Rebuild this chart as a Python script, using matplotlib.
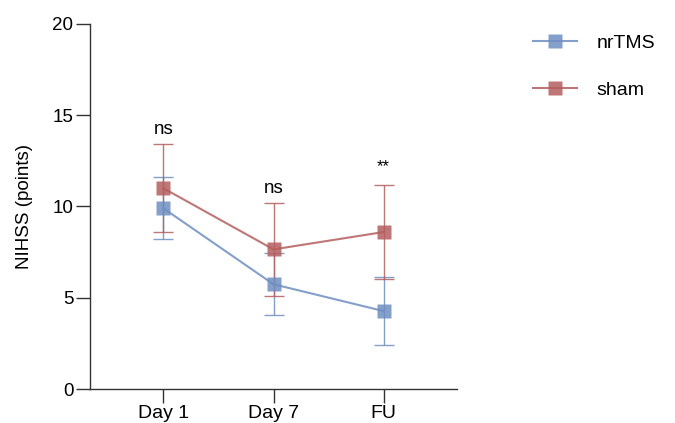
import matplotlib
matplotlib.use("Agg")
import matplotlib.pyplot as plt
from matplotlib.lines import Line2D
import numpy as np

plt.rcParams['font.family'] = ['Liberation Sans', 'DejaVu Sans']

categories = ["Day 1", "Day 7", "FU"]
nrtms_mean = [9.9, 5.74, 4.27]
nrtms_err = [1.7, 1.7, 1.85]
sham_mean = [11.0, 7.65, 8.6]
sham_err = [2.4, 2.55, 2.57]
sig_labels = ["ns", "ns", "**"]
sig_y = [14.2, 11.0, 12.2]

blue = "#6E8EC0"
red = "#B35F5E"

fig = plt.figure(figsize=(6.75, 4.23), dpi=100)
ax = fig.add_axes([90/675, 34/423, (457-90)/675, (389-24)/423])
x = np.arange(len(categories))

handles = []
for m, e, c, lab in [(nrtms_mean, nrtms_err, blue, "nrTMS"), (sham_mean, sham_err, red, "sham")]:
    ax.errorbar(x, m, yerr=e, color=c, lw=1.5, elinewidth=1.0, capsize=7, capthick=1.0,
                marker="s", markersize=10, markerfacecolor=c, markeredgecolor="none",
                alpha=0.85)
    handles.append(Line2D([], [], color=c, lw=1.5, marker="s", markersize=10,
                          markeredgecolor="none", alpha=0.85, label=lab))

for xi, s, yy in zip(x, sig_labels, sig_y):
    ax.text(xi, yy, s, ha="center", va="center", fontsize=13.5 if s == "ns" else 12)

ax.set_xlim(-0.667, 2.667)
ax.set_ylim(0, 20)
ax.set_yticks([0, 5, 10, 15, 20])
ax.set_xticks(x)
ax.set_xticklabels(categories)
ax.tick_params(axis="y", labelsize=13.5, length=10, width=1.0, color="#333333", pad=2)
ax.tick_params(axis="x", labelsize=14, length=10, width=1.0, color="#333333", pad=1.5)
ax.set_ylabel("NIHSS (points)", fontsize=13.5, labelpad=14)
for sp in ["top", "right"]:
    ax.spines[sp].set_visible(False)
for sp in ["left", "bottom"]:
    ax.spines[sp].set_linewidth(1.0)
    ax.spines[sp].set_color("#333333")

leg = fig.legend(handles=handles, loc="upper left", bbox_to_anchor=(515/675, 1-17/423), frameon=False,
                 fontsize=14, handlelength=2.3, labelspacing=1.5, handletextpad=1.0)

fig.savefig("out.png", dpi=100)
